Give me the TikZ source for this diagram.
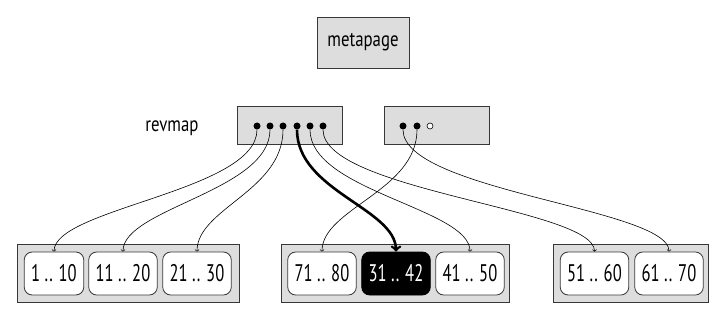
\documentclass[tikz,border=0pt]{standalone}
\usepackage{fontspec}
\setmainfont[FakeStretch=0.8]{PT Sans}
\newfontfamily\narrowfont[FakeStretch=0.69]{PT Sans}
\definecolor{pageGrey}{RGB}{221,221,221}
\definecolor{edgeGrey}{RGB}{55,55,55}

\begin{document}
\begin{tikzpicture}[x=1pt,y=-1pt,
    page/.style={draw=edgeGrey, fill=pageGrey, line width=0.8pt, inner sep=0pt},
    rangebox/.style={draw=edgeGrey, fill=white, rounded corners=8pt, line width=0.8pt,
      minimum height=43pt, inner xsep=7pt, font=\narrowfont\fontsize{24}{28}\selectfont},
    slot/.style={circle, fill=black, inner sep=0pt, minimum size=7pt},
    freeslot/.style={circle, draw=black, fill=white, inner sep=0pt, minimum size=6pt, line width=0.6pt},
    link/.style={->, line width=0.6pt}]
  \useasboundingbox (0,0) rectangle (727,320);

  % Meta page
  \node[page, minimum width=92pt, minimum height=51pt, font=\fontsize{21}{25}\selectfont]
    (meta) at (363,42.5) {metapage};

  % Revmap pages
  \node[font=\fontsize{21}{25}\selectfont] (revlabel) at (172,128) {revmap};
  \node[page, minimum width=105pt, minimum height=38pt] (rev1) at (289.5,125) {};
  \node[page, minimum width=105pt, minimum height=38pt] (rev2) at (436.5,125) {};

  % Regular pages
  \node[page, minimum width=222pt, minimum height=58pt] (grp1) at (128,273) {};
  \node[page, minimum width=228pt, minimum height=58pt] (grp2) at (395,273) {};
  \node[page, minimum width=155pt, minimum height=58pt] (grp3) at (630.5,273) {};

  \node[rangebox] (r1) at (54,273.5) {1 .. 10};
  \node[rangebox] (r2) at (123,273.5) {11 .. 20};
  \node[rangebox] (r3) at (197,273.5) {21 .. 30};
  \node[rangebox] (r8) at (322,273.5) {71 .. 80};
  \node[rangebox, fill=black, text=white, draw=black] (r4) at (396,273.5) {31 .. 42};
  \node[rangebox] (r5) at (470,273.5) {41 .. 50};
  \node[rangebox] (r6) at (594.5,273.5) {51 .. 60};
  \node[rangebox] (r7) at (669,273.5) {61 .. 70};

  % Slots
  \foreach \x [count=\i] in {257,270,283,297,310,323}
    \node[slot] (s\i) at (\x,126) {};
  \node[slot] (t1) at (403,126) {};
  \node[slot] (t2) at (417,126) {};
  \node[freeslot] (t3) at (430,126) {};

  % Links from slots to pages
  \foreach \a/\b in {s1/r1, s2/r2, s3/r3, s5/r5, s6/r6, t1/r7, t2/r8}
    \draw[link] (\a) .. controls +(0,65) and +(0,-65) .. (\b);
  \draw[->, line width=2.6pt] (s4) .. controls +(0,65) and +(0,-65) .. (r4);
\end{tikzpicture}
\end{document}
